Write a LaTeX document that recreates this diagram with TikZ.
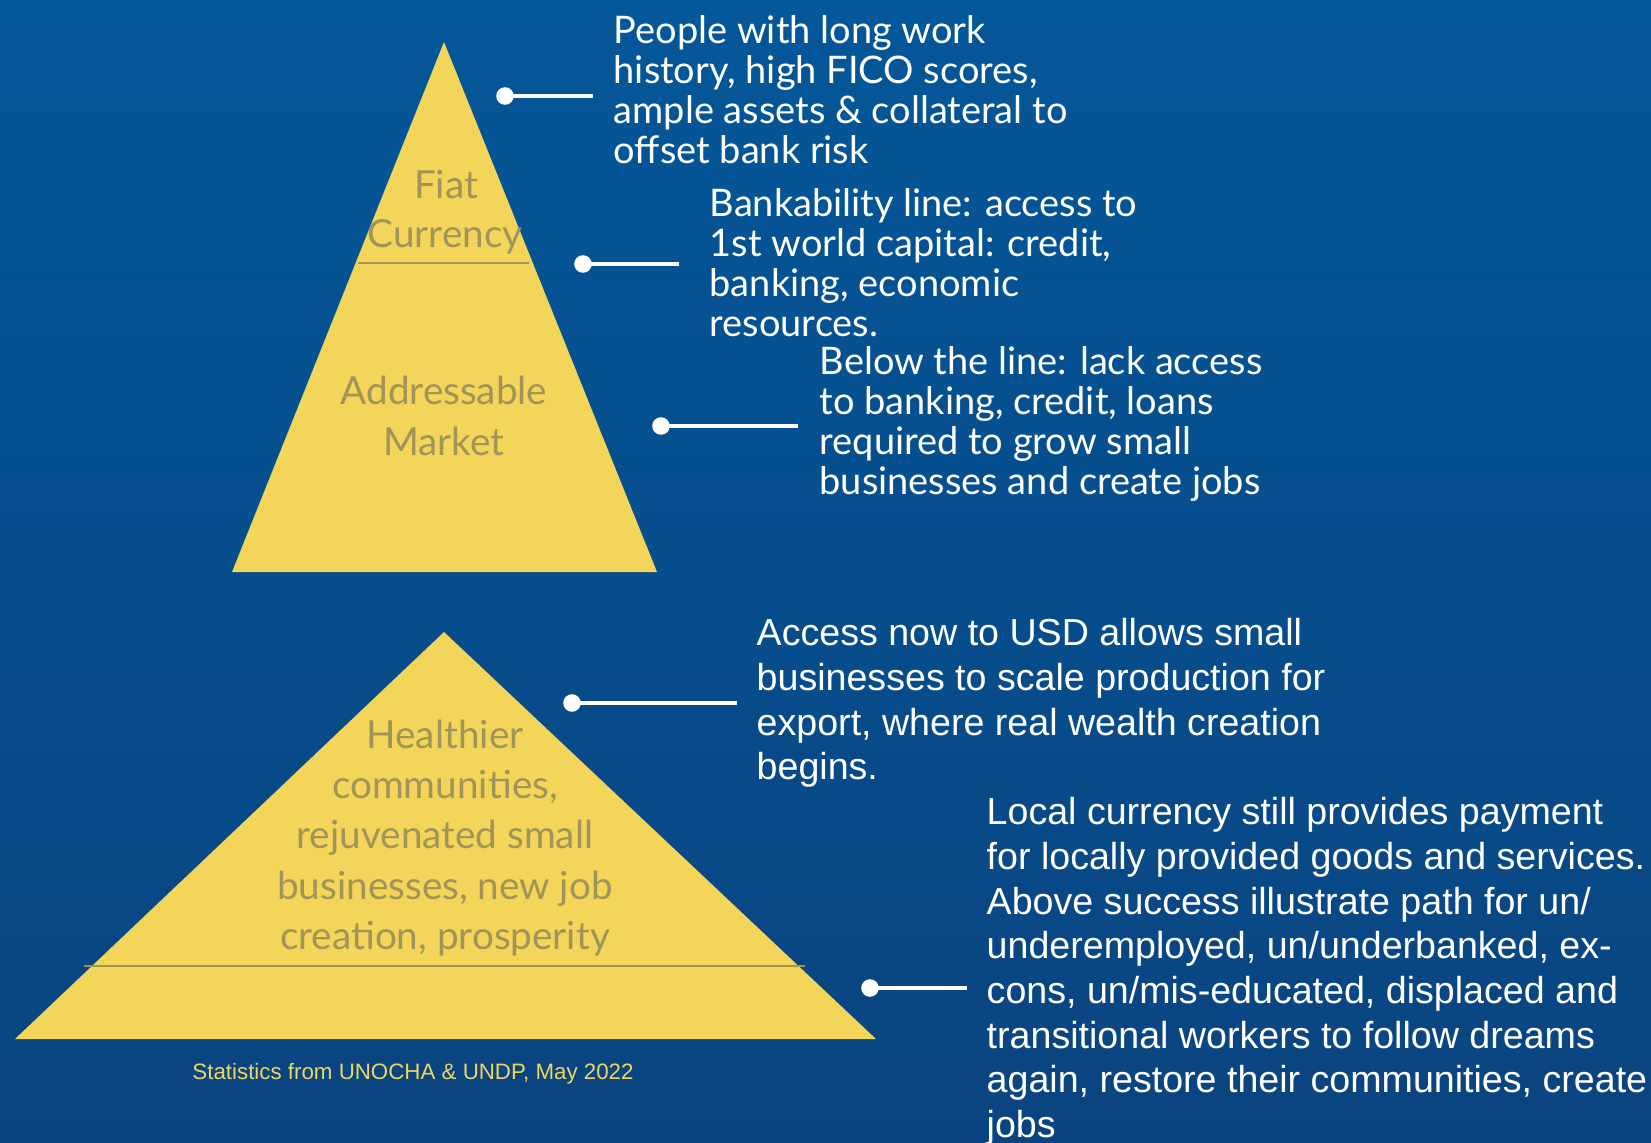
\documentclass[tikz,border=0pt]{standalone}
\usepackage{fontspec}
\setmainfont{Liberation Sans}
\newfontfamily\humanist{Lato}
\usetikzlibrary{positioning}

\definecolor{deepblue}{RGB}{4,87,153}
\definecolor{darkblue}{RGB}{10,68,128}
\definecolor{pyrayellow}{RGB}{243,213,90}
\definecolor{pyratext}{RGB}{160,148,88}
\definecolor{stattext}{RGB}{236,214,96}

\begin{document}
\begin{tikzpicture}[
    pyramid/.style={fill=pyrayellow, draw=none},
    splitline/.style={draw=pyratext, line width=0.7pt},
    pyralabel/.style={text=pyratext, font=\humanist\fontsize{11}{14}\selectfont, align=center, inner sep=0pt},
    dotpin/.style={circle, fill=white, inner sep=0pt, minimum size=5pt},
    leader/.style={draw=white, line width=1pt},
    noteA/.style={text=white, font=\humanist\fontsize{10.8}{11.4}\selectfont, align=left, anchor=north west, inner sep=0pt},
    noteB/.style={text=white, font=\fontsize{10.7}{12.7}\selectfont, align=left, anchor=north west, inner sep=0pt}
  ]
  % background
  \shade[top color=deepblue, bottom color=darkblue] (0,0) rectangle (16.51,-11.43);
  \useasboundingbox (0,0) rectangle (16.51,-11.43);

  % upper pyramid
  \fill[pyramid] (4.44,-0.42) -- (6.57,-5.72) -- (2.32,-5.72) -- cycle;
  \draw[splitline] (3.58,-2.63) -- (5.29,-2.63);
  \node[pyralabel] (fiat) at (4.46,-1.85) {Fiat};
  \node[pyralabel] (currency) at (4.45,-2.37) {Currency};
  \node[pyralabel] (market) at (4.44,-4.16) {Addressable\\[0.5pt]Market};

  % lower pyramid
  \fill[pyramid] (4.44,-6.32) -- (8.76,-10.39) -- (0.15,-10.39) -- cycle;
  \draw[splitline] (0.84,-9.66) -- (8.05,-9.66);
  \node[pyralabel, font=\humanist\fontsize{11}{14.3}\selectfont] (prosper) at (4.45,-8.38)
    {Healthier\\communities,\\rejuvenated small\\businesses, new job\\creation, prosperity};
  \node[text=stattext, font=\fontsize{6.35}{7}\selectfont] (stats) at (4.13,-10.74)
    {Statistics from UNOCHA \& UNDP, May 2022};

  % pins and leader lines
  \node[dotpin] (p1) at (5.05,-0.96) {};
  \coordinate (e1) at (5.93,-0.96);
  \node[dotpin] (p2) at (5.83,-2.64) {};
  \coordinate (e2) at (6.79,-2.64);
  \node[dotpin] (p3) at (6.61,-4.26) {};
  \coordinate (e3) at (7.98,-4.26);
  \node[dotpin] (p4) at (5.72,-7.03) {};
  \coordinate (e4) at (7.37,-7.03);
  \node[dotpin] (p5) at (8.70,-9.88) {};
  \coordinate (e5) at (9.67,-9.88);
  \foreach \i in {1,...,5}
    \draw[leader] (p\i.center) -- (e\i);

  % notes
  \node[noteA] (top) at (6.13,-0.15)
    {People with long work\\history, high FICO scores,\\ample assets \& collateral to\\offset bank risk};
  \node[noteA] (bank) at (7.09,-1.88)
    {Bankability line: access to\\1st world capital: credit,\\banking, economic\\resources.};
  \node[noteA] (below) at (8.19,-3.46)
    {Below the line: lack access\\to banking, credit, loans\\required to grow small\\businesses and create jobs};
  \node[noteB] (usd) at (7.56,-6.18)
    {Access now to USD allows small\\businesses to scale production for\\export, where real wealth creation\\begins.};
  \node[noteB] (local) at (9.86,-7.97)
    {Local currency still provides payment\\for locally provided goods and services.\\Above success illustrate path for un/\\underemployed, un/underbanked, ex-\\cons, un/mis-educated, displaced and\\transitional workers to follow dreams\\again, restore their communities, create\\jobs};
\end{tikzpicture}
\end{document}
